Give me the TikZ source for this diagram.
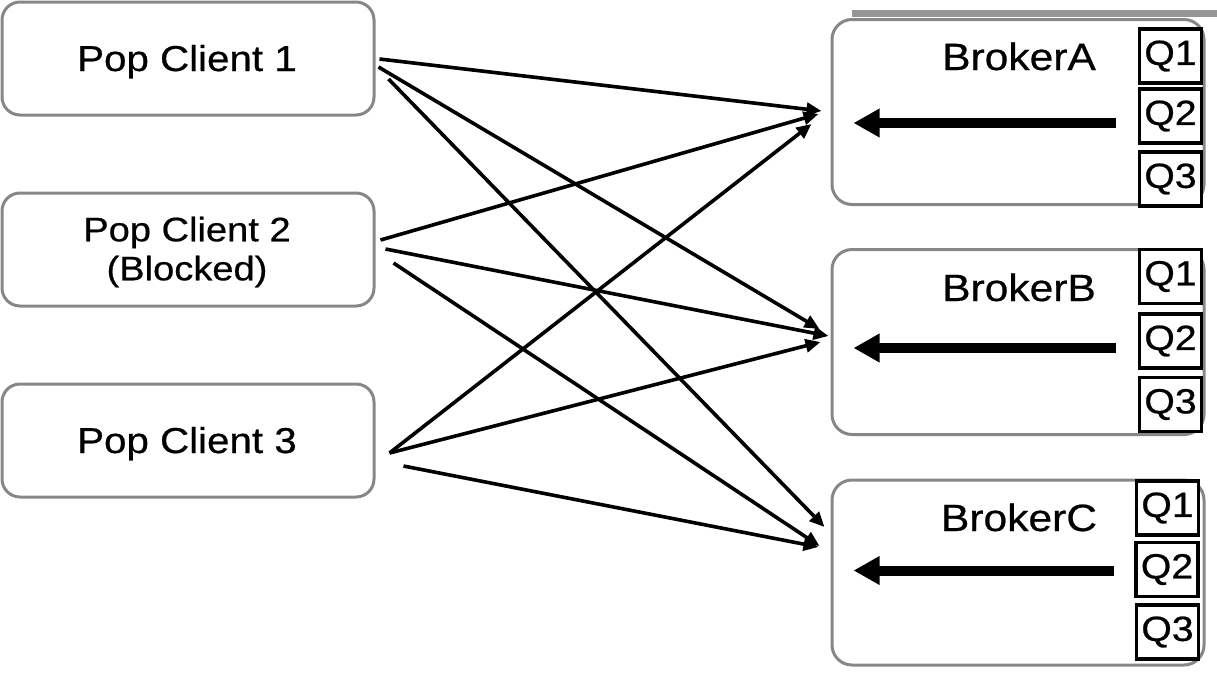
\documentclass[tikz,border=0pt]{standalone}
\usepackage{fontspec}
\setmainfont{Liberation Sans}
\newfontfamily\widefont[FakeStretch=1.12,FakeBold=0.6]{Liberation Sans}
\usetikzlibrary{arrows.meta,calc}
\definecolor{boxgray}{RGB}{135,135,135}
\definecolor{bargray}{RGB}{150,150,150}
\begin{document}
\begin{tikzpicture}[x=1pt,y=-1pt,
  client/.style={draw=boxgray,line width=3pt,rounded corners=18pt,minimum width=372pt,minimum height=113pt,inner sep=0pt},
  broker/.style={draw=boxgray,line width=3pt,rounded corners=20pt,minimum width=372pt,minimum height=185pt,inner sep=0pt},
  queue/.style={draw=black,line width=3.2pt,fill=white,minimum width=62pt,minimum height=54pt,inner sep=0pt,font=\widefont\fontsize{35}{40}\selectfont},
  lbl/.style={anchor=base,inner sep=0pt},
  conn/.style={line width=3.6pt,-{Triangle[length=15pt,width=13pt]}},
  pull/.style={line width=10pt,-{Triangle[length=26pt,width=27pt]}}
]
\useasboundingbox (0,0) rectangle (1217,675);
\fill[bargray] (852,10) rectangle (1217,17);

% clients
\node[client] (c1) at (188,58.5) {};
\node[client] (c2) at (188,249.5) {};
\node[client] (c3) at (188,440.5) {};
\node[lbl,font=\widefont\fontsize{36}{40}\selectfont] (t1) at (187,71) {Pop Client 1};
\node[inner sep=0pt,align=center,font=\widefont\fontsize{34}{39}\selectfont] (t2) at (187,252) {Pop Client 2\\(Blocked)};
\node[lbl,font=\widefont\fontsize{36}{40}\selectfont] (t3) at (187,453) {Pop Client 3};

% brokers
\node[broker] (bA) at (1018,112) {};
\node[broker] (bB) at (1018,342) {};
\node[broker] (bC) at (1018,572.5) {};
\node[lbl,font=\widefont\fontsize{38}{42}\selectfont] (tA) at (1019,70) {BrokerA};
\node[lbl,font=\widefont\fontsize{38}{42}\selectfont] (tB) at (1019,301) {BrokerB};
\node[lbl,font=\widefont\fontsize{38}{42}\selectfont] (tC) at (1019,531) {BrokerC};

% queues
\node[queue] (qA1) at (1170.5,56) {Q1};
\node[queue] (qA2) at (1170.5,116) {Q2};
\node[queue] (qA3) at (1170.5,179) {Q3};
\node[queue] (qB1) at (1170.5,276.5) {Q1};
\node[queue] (qB2) at (1170.5,341) {Q2};
\node[queue] (qB3) at (1170.5,404.5) {Q3};
\node[queue] (qC1) at (1167.5,508) {Q1};
\node[queue] (qC2) at (1167,569.5) {Q2};
\node[queue] (qC3) at (1167.5,632) {Q3};

% pull arrows
\draw[pull] ([shift={(-22,7)}]qA2.west) -- ([shift={(23,11)}]bA.west);
\draw[pull] ([shift={(-22,7)}]qB2.west) -- ([shift={(23,6)}]bB.west);
\draw[pull] ([shift={(-20,1)}]qC2.west) -- ([shift={(23,-2)}]bC.west);

% connectors
\draw[conn] ([shift={(4,0.5)}]c1.east) -- ([shift={(-9,-1)}]bA.west);
\draw[conn] ([shift={(3,8.5)}]c1.east) -- ([shift={(-11,-13)}]bB.west);
\draw[conn] ([shift={(13,20.5)}]c1.east) -- ([shift={(-6,-45.5)}]bC.west);
\draw[conn] ([shift={(5,-9.5)}]c2.east) -- ([shift={(-12,2)}]bA.west);
\draw[conn] ([shift={(10,-0.5)}]c2.east) -- ([shift={(-2,-6)}]bB.west);
\draw[conn] ([shift={(18,13.5)}]c2.east) -- ([shift={(-11,-26.5)}]bC.west);
\draw[conn] ([shift={(14,12.5)}]c3.east) -- ([shift={(-19,12)}]bA.west);
\draw[conn] ([shift={(14,12.5)}]c3.east) -- ([shift={(-10,0)}]bB.west);
\draw[conn] ([shift={(28,25.5)}]c3.east) -- ([shift={(-12,-25.5)}]bC.west);
\end{tikzpicture}
\end{document}
